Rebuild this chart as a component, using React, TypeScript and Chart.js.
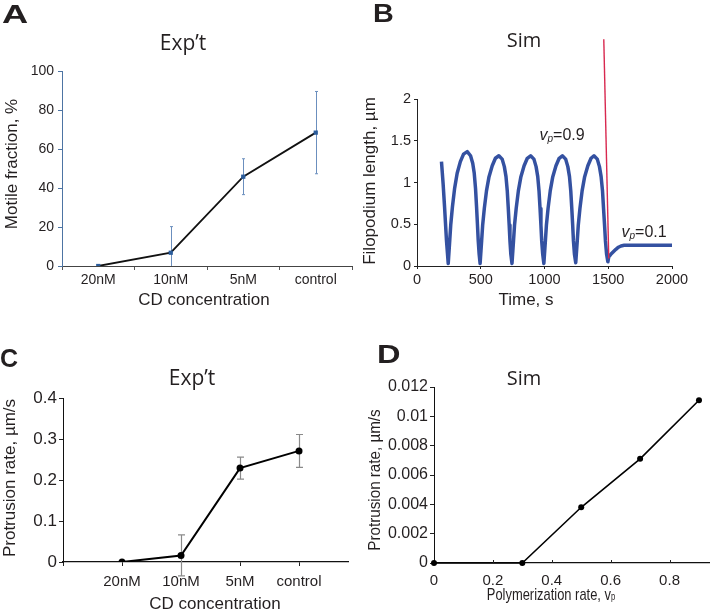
import React, { useEffect, useRef } from "react";
import { Chart, registerables } from "chart.js";

Chart.register(...registerables);

// ---------- Panel A : Exp't, motile fraction ----------
const concentrations = ["20nM", "10nM", "5nM", "control"];
const motileFraction = [0, 6.8, 45.8, 68.4];
const motileFractionErr = [0, 13.4, 9.2, 21.1];

// ---------- Panel B : Sim, filopodium length vs time ----------
const simTime = [
  192, 205, 216, 231, 245,
  257, 265, 278, 295, 315, 340, 365, 394, 420, 437, 449, 459, 467, 474, 480, 487, 495,
  507, 515, 528, 545, 565, 590, 615, 642, 668, 685, 698, 708, 716, 723, 729, 736, 745,
  757, 765, 778, 795, 815, 840, 865, 891, 917, 934, 947, 957, 965, 972, 978, 986, 995,
  1007, 1015, 1028, 1045, 1065, 1090, 1115, 1140, 1166, 1183, 1196, 1206, 1214, 1221, 1227, 1235, 1245,
  1257, 1265, 1278, 1295, 1315, 1340, 1365, 1388, 1414, 1431, 1444, 1455, 1463, 1471, 1478, 1487, 1497,
  1504, 1520, 1540, 1560, 1580, 1600, 1625, 1650, 1700, 1800, 1900, 2000,
];
const filopodiumLength = [
  1.25, 0.98, 0.71, 0.31, 0.03,
  0.31, 0.5, 0.71, 0.93, 1.11, 1.25, 1.34, 1.37, 1.32, 1.23, 1.11, 0.93, 0.71, 0.5, 0.31, 0.15, 0.03,
  0.3, 0.49, 0.69, 0.9, 1.07, 1.2, 1.29, 1.32, 1.28, 1.19, 1.07, 0.9, 0.69, 0.49, 0.3, 0.14, 0.03,
  0.3, 0.49, 0.69, 0.9, 1.07, 1.2, 1.29, 1.32, 1.28, 1.19, 1.07, 0.9, 0.69, 0.49, 0.3, 0.14, 0.03,
  0.3, 0.49, 0.69, 0.9, 1.07, 1.2, 1.29, 1.32, 1.28, 1.19, 1.07, 0.9, 0.69, 0.49, 0.3, 0.14, 0.04,
  0.3, 0.49, 0.69, 0.9, 1.07, 1.2, 1.29, 1.32, 1.28, 1.19, 1.07, 0.9, 0.69, 0.49, 0.3, 0.14, 0.05,
  0.11, 0.14, 0.17, 0.2, 0.225, 0.24, 0.248, 0.25, 0.25, 0.25, 0.25, 0.25,
];
const switchTime = [1465, 1504];
const switchLength = [2.715, 0.09];

// ---------- Panel C : Exp't, protrusion rate ----------
const protrusionExp = [0, 0.016, 0.229, 0.271];
const protrusionExpErr = [0, 0.05, 0.027, 0.04];

// ---------- Panel D : Sim, protrusion rate vs polymerization rate ----------
const polymerizationRate = [0, 0.3, 0.5, 0.7, 0.9];
const protrusionSim = [0, 0, 0.0038, 0.0071, 0.0111];

// ---------- helpers ----------
const ARIAL = '"Liberation Sans", Arial, sans-serif';
const MYRIAD = '"Open Sans", "Noto Sans", sans-serif';
const TXT = "#231f20";

type Part = { t: string; font: string; dy?: number };
type TextItem = {
  text?: string;
  parts?: Part[];
  x: number;
  y: number;
  font?: string;
  align?: "left" | "center" | "right";
  baseline?: CanvasTextBaseline;
  rotate?: number;
  sx?: number;
};

function drawTextItem(ctx: CanvasRenderingContext2D, it: TextItem) {
  ctx.save();
  ctx.translate(it.x, it.y);
  if (it.rotate) ctx.rotate((it.rotate * Math.PI) / 180);
  if (it.sx) ctx.scale(it.sx, 1);
  ctx.fillStyle = TXT;
  ctx.textBaseline = it.baseline || "alphabetic";
  ctx.textAlign = "left";
  const parts: Part[] = it.parts || [{ t: it.text || "", font: it.font || `14px ${ARIAL}` }];
  let total = 0;
  for (const p of parts) {
    ctx.font = p.font;
    total += ctx.measureText(p.t).width;
  }
  let x0 = it.align === "center" ? -total / 2 : it.align === "right" ? -total : 0;
  for (const p of parts) {
    ctx.font = p.font;
    ctx.fillText(p.t, x0, p.dy || 0);
    x0 += ctx.measureText(p.t).width;
  }
  ctx.restore();
}

function textPlugin(items: TextItem[], ox: number, oy: number) {
  return {
    id: "panelTexts",
    afterDraw(chart: any) {
      items.forEach((it) => drawTextItem(chart.ctx, { ...it, x: it.x - ox, y: it.y - oy }));
    },
  };
}

// labels anchored in data coordinates
function dataLabelPlugin(items: { dx: number; dy: number; parts: Part[] }[]) {
  return {
    id: "dataLabels",
    afterDraw(chart: any) {
      const xs = chart.scales.x;
      const ys = chart.scales.y;
      items.forEach((it) =>
        drawTextItem(chart.ctx, {
          parts: it.parts,
          x: xs.getPixelForValue(it.dx),
          y: ys.getPixelForValue(it.dy),
          align: "left",
        })
      );
    },
  };
}

function errorBarPlugin(values: number[], errs: number[], color: string, width: number, cap: number, clip: boolean) {
  return {
    id: "errorBars",
    beforeDatasetsDraw(chart: any) {
      const ctx = chart.ctx as CanvasRenderingContext2D;
      const meta = chart.getDatasetMeta(0);
      const y = chart.scales.y;
      ctx.save();
      if (clip) {
        const a = chart.chartArea;
        ctx.beginPath();
        ctx.rect(a.left, a.top, a.right - a.left, a.bottom - a.top);
        ctx.clip();
      }
      ctx.strokeStyle = color;
      ctx.lineWidth = width;
      values.forEach((v, i) => {
        const e = errs[i];
        if (!e) return;
        const px = Math.round(meta.data[i].x) + 0.5;
        const top = y.getPixelForValue(v + e);
        const bot = y.getPixelForValue(v - e);
        ctx.beginPath();
        ctx.moveTo(px, top);
        ctx.lineTo(px, bot);
        ctx.moveTo(px - cap, top);
        ctx.lineTo(px + cap, top);
        ctx.moveTo(px - cap, bot);
        ctx.lineTo(px + cap, bot);
        ctx.stroke();
      });
      ctx.restore();
    },
  };
}

function innerTickPlugin(len: number, color: string) {
  return {
    id: "innerTicks",
    afterDatasetsDraw(chart: any) {
      const ctx = chart.ctx as CanvasRenderingContext2D;
      const xs = chart.scales.x;
      ctx.save();
      ctx.strokeStyle = color;
      ctx.lineWidth = 1;
      xs.ticks.forEach((t: any, i: number) => {
        if (t.value === xs.min) return;
        const px = Math.round(xs.getPixelForTick(i)) + 0.5;
        ctx.beginPath();
        ctx.moveTo(px, chart.chartArea.bottom);
        ctx.lineTo(px, chart.chartArea.bottom - len);
        ctx.stroke();
      });
      ctx.restore();
    },
  };
}

const fixedWidth = (w: number) => (s: any) => {
  s.width = w;
};
const fixedHeight = (h: number) => (s: any) => {
  s.height = h;
};
const plain = (digits: number) => (v: number) => String(Number(v.toFixed(digits)));

const baseOptions = (padding: any) => ({
  animation: false as const,
  responsive: false,
  devicePixelRatio: 1,
  layout: { padding },
  events: [] as any[],
  plugins: { legend: { display: false }, tooltip: { enabled: false }, title: { display: false } },
});

// ---------- chart builders ----------
function buildA(): any {
  const ox = 0, oy = 0;
  const texts: TextItem[] = [
    { text: "A", x: 2, y: 23, font: `bold 25px ${ARIAL}`, sx: 1.45 },
    { text: "Exp\u2019t", x: 183, y: 49.5, font: `21px ${MYRIAD}`, align: "center" },
    { text: "Motile fraction, %", x: 12, y: 164, rotate: -90, font: `17px ${ARIAL}`, align: "center", baseline: "middle" },
    { text: "CD concentration", x: 204, y: 300, font: `17px ${ARIAL}`, align: "center", baseline: "middle" },
  ];
  return {
    type: "line",
    data: {
      labels: concentrations,
      datasets: [
        {
          data: motileFraction,
          borderColor: "#111",
          borderWidth: 1.8,
          tension: 0,
          pointStyle: "rect",
          pointRadius: 3,
          pointBackgroundColor: "#2b5c9b",
          pointBorderColor: "#2b5c9b",
          pointBorderWidth: 0,
        },
      ],
    },
    options: {
      ...baseOptions({ top: 71, right: 3, left: 0, bottom: 0 }),
      scales: {
        x: {
          type: "category",
          offset: true,
          grid: { offset: true, drawOnChartArea: false, drawTicks: true, tickLength: 4, color: "#555" },
          border: { color: "#444", width: 1 },
          ticks: { font: { family: ARIAL, size: 14 }, color: TXT, padding: 2, autoSkip: false, maxRotation: 0 },
          afterFit: fixedHeight(44),
        },
        y: {
          min: 0,
          max: 100,
          grid: { drawOnChartArea: false, tickLength: 4, color: "#4d74a3" },
          border: { color: "#4d74a3", width: 1 },
          ticks: { stepSize: 20, font: { family: ARIAL, size: 14 }, color: TXT, padding: 4 },
          afterFit: fixedWidth(62),
        },
      },
    },
    plugins: [errorBarPlugin(motileFraction, motileFractionErr, "#6b8fbe", 1, 1.5, true), textPlugin(texts, ox, oy)],
  };
}

function buildB(): any {
  const ox = 356, oy = 0;
  const texts: TextItem[] = [
    { text: "B", x: 373, y: 22, font: `bold 25px ${ARIAL}`, sx: 1.15 },
    { text: "Sim", x: 524, y: 46.7, font: `20px ${MYRIAD}`, align: "center" },
    { text: "Filopodium length, \u00b5m", x: 370, y: 181, rotate: -90, font: `17px ${ARIAL}`, align: "center", baseline: "middle" },
    { text: "Time, s", x: 526, y: 300, font: `17px ${ARIAL}`, align: "center", baseline: "middle" },
  ];
  const vp = (val: string): Part[] => [
    { t: "v", font: `italic 16px ${ARIAL}` },
    { t: "p", font: `italic 10px ${ARIAL}`, dy: 2 },
    { t: val, font: `16px ${ARIAL}` },
  ];
  return {
    type: "line",
    data: {
      datasets: [
        {
          data: switchTime.map((t, i) => ({ x: t, y: switchLength[i] })),
          borderColor: "#d8284f",
          borderWidth: 1.4,
          pointRadius: 0,
          clip: false,
          order: 0,
        },
        {
          data: simTime.map((t, i) => ({ x: t, y: filopodiumLength[i] })),
          borderColor: "#3451a1",
          borderWidth: 3.5,
          borderJoinStyle: "round",
          pointRadius: 0,
          tension: 0,
          order: 1,
        },
      ],
    },
    options: {
      ...baseOptions({ top: 99, right: 41, left: 0, bottom: 0 }),
      scales: {
        x: {
          type: "linear",
          min: 0,
          max: 2000,
          grid: { drawOnChartArea: false, tickLength: 3, color: "#222" },
          border: { color: "#222", width: 1 },
          ticks: { stepSize: 500, font: { family: ARIAL, size: 14.5 }, color: TXT, padding: 2, callback: plain(0) },
          afterFit: fixedHeight(44),
        },
        y: {
          min: 0,
          max: 2,
          grid: { drawOnChartArea: false, tickLength: 3, color: "#222" },
          border: { color: "#222", width: 1 },
          ticks: { stepSize: 0.5, font: { family: ARIAL, size: 14.5 }, color: TXT, padding: 3, callback: plain(1) },
          afterFit: fixedWidth(61),
        },
      },
    },
    plugins: [
      textPlugin(texts, ox, oy),
      dataLabelPlugin([
        { dx: 961, dy: 1.51, parts: vp("=0.9") },
        { dx: 1604, dy: 0.344, parts: vp("=0.1") },
      ]),
    ],
  };
}

function buildC(): any {
  const ox = 0, oy = 310;
  const texts: TextItem[] = [
    { text: "C", x: 0, y: 367, font: `bold 25px ${ARIAL}` },
    { text: "Exp\u2019t", x: 192, y: 385, font: `21px ${MYRIAD}`, align: "center" },
    { text: "Protrusion rate, \u00b5m/s", x: 10, y: 478, rotate: -90, font: `17px ${ARIAL}`, align: "center", baseline: "middle" },
    { text: "CD concentration", x: 215, y: 604, font: `17px ${ARIAL}`, align: "center", baseline: "middle" },
  ];
  return {
    type: "line",
    data: {
      datasets: [
        {
          data: protrusionExp.map((v, i) => ({ x: i + 1, y: v })),
          borderColor: "#000",
          borderWidth: 2,
          tension: 0,
          pointRadius: 3.5,
          pointBackgroundColor: "#000",
          pointBorderColor: "#000",
          pointBorderWidth: 0,
        },
      ],
    },
    options: {
      ...baseOptions({ top: 88, right: 8, left: 0, bottom: 0 }),
      scales: {
        x: {
          type: "linear",
          min: 0,
          max: 4.83,
          grid: { drawOnChartArea: false, tickLength: 4, color: "#222" },
          border: { color: "#111", width: 1.3 },
          ticks: {
            stepSize: 1,
            includeBounds: false,
            autoSkip: false,
            maxRotation: 0,
            font: { family: ARIAL, size: 15 },
            color: TXT,
            padding: 7,
            callback: (v: number) => concentrations[v - 1] ?? "",
          },
          afterFit: fixedHeight(52),
        },
        y: {
          min: 0,
          max: 0.4,
          grid: { drawOnChartArea: false, tickLength: 4, color: "#222" },
          border: { color: "#111", width: 1 },
          ticks: { stepSize: 0.1, font: { family: ARIAL, size: 17 }, color: TXT, padding: 2, callback: plain(1) },
          afterFit: fixedWidth(63),
        },
      },
    },
    plugins: [errorBarPlugin(protrusionExp, protrusionExpErr, "#8a8a8a", 1.2, 3.5, false), textPlugin(texts, ox, oy)],
  };
}

function buildD(): any {
  const ox = 356, oy = 310;
  const texts: TextItem[] = [
    { text: "D", x: 377, y: 363, font: `bold 25px ${ARIAL}`, sx: 1.3 },
    { text: "Sim", x: 524, y: 385, font: `20px ${MYRIAD}`, align: "center" },
    { text: "Protrusion rate, \u00b5m/s", x: 376, y: 480, rotate: -90, font: `16px ${ARIAL}`, align: "center", baseline: "middle", sx: 0.95 },
    {
      parts: [
        { t: "Polymerization rate, v", font: `17px ${ARIAL}` },
        { t: "p", font: `10px ${ARIAL}`, dy: 2 },
      ],
      x: 551,
      y: 595,
      align: "center",
      baseline: "middle",
      sx: 0.76,
    },
  ];
  return {
    type: "line",
    data: {
      datasets: [
        {
          data: polymerizationRate.map((r, i) => ({ x: r, y: protrusionSim[i] })),
          borderColor: "#000",
          borderWidth: 1.6,
          tension: 0,
          pointRadius: 3,
          pointBackgroundColor: "#000",
          pointBorderColor: "#000",
          pointBorderWidth: 0,
          clip: false,
        },
      ],
    },
    options: {
      ...baseOptions({ top: 77, right: 0, left: 0, bottom: 0 }),
      scales: {
        x: {
          type: "linear",
          min: 0,
          max: 0.934,
          grid: { drawOnChartArea: false, drawTicks: false },
          border: { color: "#111", width: 1.3 },
          ticks: {
            stepSize: 0.2,
            includeBounds: false,
            autoSkip: false,
            maxRotation: 0,
            font: { family: ARIAL, size: 15 },
            color: TXT,
            padding: 9,
            callback: plain(2),
          },
          afterFit: fixedHeight(51),
        },
        y: {
          min: 0,
          max: 0.012,
          grid: { drawOnChartArea: false, tickLength: 4, color: "#222" },
          border: { color: "#111", width: 1 },
          ticks: {
            stepSize: 0.002,
            font: { family: ARIAL, size: 16 },
            color: TXT,
            padding: 2,
            callback: plain(3),
          },
          afterFit: fixedWidth(78),
        },
      },
    },
    plugins: [innerTickPlugin(3, "#222"), textPlugin(texts, ox, oy)],
  };
}

function Panel({ left, top, width, height, build }: { left: number; top: number; width: number; height: number; build: () => any }) {
  const ref = useRef<HTMLCanvasElement>(null);
  useEffect(() => {
    const chart = new Chart(ref.current as HTMLCanvasElement, build());
    return () => chart.destroy();
  }, [build]);
  return (
    <canvas
      ref={ref}
      width={width}
      height={height}
      style={{ position: "absolute", left, top, width, height, display: "block" }}
    />
  );
}

export default function App() {
  return (
    <div style={{ position: "absolute", left: 0, top: 0, width: 713, height: 614, background: "#fff", overflow: "hidden" }}>
      <Panel left={0} top={0} width={356} height={310} build={buildA} />
      <Panel left={356} top={0} width={357} height={310} build={buildB} />
      <Panel left={0} top={310} width={356} height={304} build={buildC} />
      <Panel left={356} top={310} width={357} height={304} build={buildD} />
    </div>
  );
}
